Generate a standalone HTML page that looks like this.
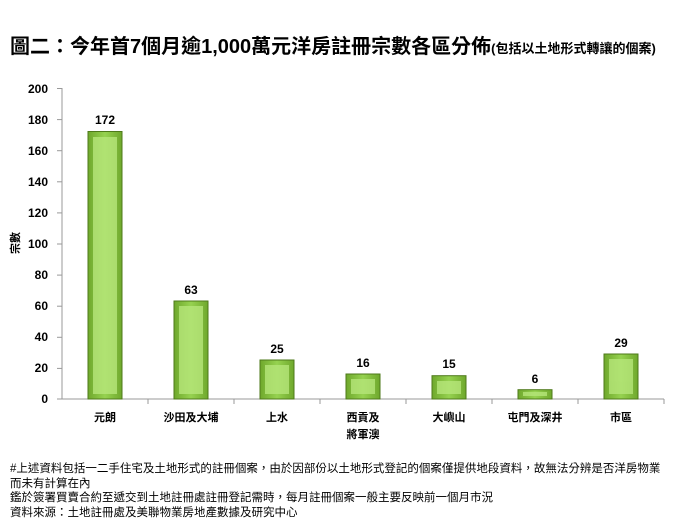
<!DOCTYPE html>
<html><head><meta charset="utf-8"><style>
body{margin:0;background:#fff;width:700px;height:525px;overflow:hidden}
svg{display:block}
text{font-family:"Liberation Sans","Noto Sans CJK TC",sans-serif}
</style></head><body>
<svg width="700" height="525" xmlns="http://www.w3.org/2000/svg">
<defs>
<linearGradient id="g" x1="0" x2="1" y1="0" y2="0">
<stop offset="0" stop-color="#6fa82c"/><stop offset="0.5" stop-color="#96d250"/><stop offset="1" stop-color="#6fa82c"/>
</linearGradient>
</defs>
<text x="10" y="53" font-size="20" font-weight="bold" font-family="'Noto Serif CJK SC','Noto Sans CJK TC',serif">圖二：今年首7個月逾1,000萬元洋房註冊宗數各區分佈<tspan font-size="13">(包括以土地形式轉讓的個案)</tspan></text>
<g stroke="#999" stroke-width="1">
<line x1="62" y1="88" x2="62" y2="399"/>
<line x1="62" y1="399" x2="664" y2="399"/>
<line x1="57" y1="88.5" x2="62" y2="88.5"/><line x1="57" y1="119.6" x2="62" y2="119.6"/>
<line x1="57" y1="150.7" x2="62" y2="150.7"/><line x1="57" y1="181.8" x2="62" y2="181.8"/>
<line x1="57" y1="212.9" x2="62" y2="212.9"/><line x1="57" y1="244" x2="62" y2="244"/>
<line x1="57" y1="275.1" x2="62" y2="275.1"/><line x1="57" y1="306.2" x2="62" y2="306.2"/>
<line x1="57" y1="337.3" x2="62" y2="337.3"/><line x1="57" y1="368.4" x2="62" y2="368.4"/>
<line x1="57" y1="399" x2="62" y2="399"/>
<line x1="148" y1="399" x2="148" y2="404"/><line x1="234" y1="399" x2="234" y2="404"/>
<line x1="320" y1="399" x2="320" y2="404"/><line x1="406" y1="399" x2="406" y2="404"/>
<line x1="492" y1="399" x2="492" y2="404"/><line x1="578" y1="399" x2="578" y2="404"/>
<line x1="664" y1="399" x2="664" y2="404"/>
</g>
<g font-size="12" font-weight="bold" text-anchor="end">
<text x="48" y="93">200</text><text x="48" y="124">180</text><text x="48" y="155">160</text>
<text x="48" y="186">140</text><text x="48" y="217">120</text><text x="48" y="248">100</text>
<text x="48" y="279">80</text><text x="48" y="310">60</text><text x="48" y="341">40</text>
<text x="48" y="372">20</text><text x="48" y="403">0</text>
</g>
<text x="0" y="0" font-size="11" font-weight="bold" transform="translate(19,254) rotate(-90)">宗數</text>
<g stroke="#4e7a1a" stroke-width="1">
<rect x="88" y="131.5" width="34" height="267.5" fill="url(#g)"/>
<rect x="174" y="301" width="34" height="98" fill="url(#g)"/>
<rect x="260" y="360" width="34" height="39" fill="url(#g)"/>
<rect x="346" y="374" width="34" height="25" fill="url(#g)"/>
<rect x="432" y="375.7" width="34" height="23.3" fill="url(#g)"/>
<rect x="518" y="389.7" width="34" height="9.3" fill="url(#g)"/>
<rect x="604" y="354" width="34" height="45" fill="url(#g)"/>
</g>
<g fill="#b6e67a" opacity="0.8">
<rect x="93" y="137" width="24" height="257"/>
<rect x="179" y="306" width="24" height="88"/>
<rect x="265" y="365" width="24" height="29"/>
<rect x="351" y="379" width="24" height="15"/>
<rect x="437" y="381" width="24" height="13"/>
<rect x="523" y="392" width="24" height="4"/>
<rect x="609" y="359" width="24" height="35"/>
</g>
<g font-size="12" font-weight="bold" text-anchor="middle">
<text x="105" y="124">172</text><text x="191" y="294">63</text><text x="277" y="353">25</text>
<text x="363" y="367">16</text><text x="449" y="368">15</text><text x="535" y="383">6</text>
<text x="621" y="347">29</text>
</g>
<g font-size="11" font-weight="bold" text-anchor="middle" font-family="'Noto Serif CJK SC',serif">
<text x="105" y="421">元朗</text><text x="191" y="421">沙田及大埔</text><text x="277" y="421">上水</text>
<text x="363" y="421">西貢及</text><text x="363" y="438">將軍澳</text>
<text x="449" y="421">大嶼山</text><text x="535" y="421">屯門及深井</text><text x="621" y="421">市區</text>
</g>
<g font-size="11.5">
<text x="10" y="472">#上述資料包括一二手住宅及土地形式的註冊個案，由於因部份以土地形式登記的個案僅提供地段資料，故無法分辨是否洋房物業</text>
<text x="10" y="487">而未有計算在內</text>
<text x="10" y="501">鑑於簽署買賣合約至遞交到土地註冊處註冊登記需時，每月註冊個案一般主要反映前一個月市況</text>
<text x="10" y="516">資料來源：土地註冊處及美聯物業房地產數據及研究中心</text>
</g>
</svg>
</body></html>
